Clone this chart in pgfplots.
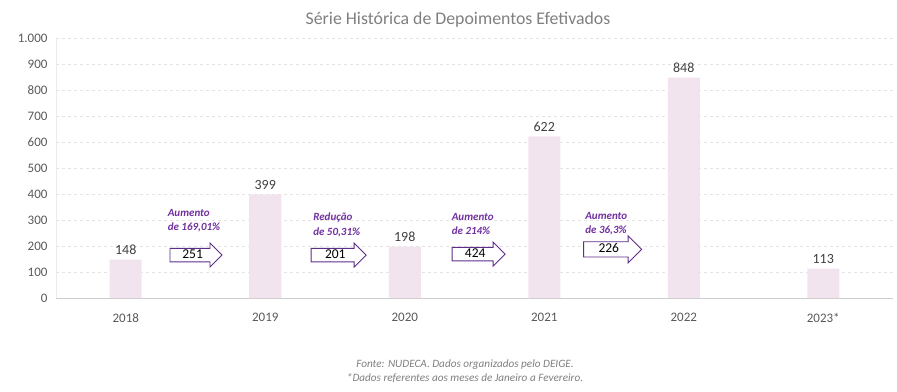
\documentclass[border=0pt]{standalone}
\usepackage{fontspec}
\setmainfont{Carlito}
\usepackage{pgfplots}
\pgfplotsset{compat=1.18}
\usetikzlibrary{shapes.arrows}
\definecolor{barc}{HTML}{F2E4EF}
\definecolor{purp}{HTML}{7030A0}
\definecolor{arrc}{HTML}{5E2D8A}
\definecolor{txtg}{HTML}{595959}
\definecolor{gridc}{HTML}{E3E3E3}
\definecolor{titg}{HTML}{7F7F7F}
\begin{document}
\begin{tikzpicture}[x=1pt,y=1pt,
  arr/.style={single arrow, draw=arrc, fill=white, line width=0.9pt, single arrow head extend=5pt,
    single arrow head indent=0pt, inner xsep=2pt, inner ysep=0.5pt, anchor=west,
    font=\fontsize{13.5}{14}\selectfont, text height=9pt, text depth=2pt, align=center},
  lab/.style={anchor=north west, inner sep=0pt, align=left, text=purp,
    font=\fontsize{11}{14.5}\selectfont\bfseries\itshape}]
\useasboundingbox (-56,-93) rectangle (841,298);
\begin{axis}[at={(0,0)}, anchor=south west, scale only axis,
  width=837pt, height=260pt,
  xmin=-0.5, xmax=5.5, ymin=0, ymax=1000,
  ytick={0,100,...,1000}, xtick={0,1,2,3,4,5},
  xticklabels={2018,2019,2020,2021,2022,\mbox{2023*}},
  ymajorgrids, grid style={dashed, color=gridc, line width=0.6pt},
  axis x line*=bottom, axis y line*=left,
  x axis line style={draw=black!20, line width=0.8pt},
  y axis line style={draw=black!8, line width=0.6pt},
  major tick length=0pt, tick style={draw=none},
  /pgf/number format/assume math mode=true,
  /pgf/number format/.cd, 1000 sep={.}, /pgfplots/.cd,
  ticklabel style={font=\fontsize{13}{15}\selectfont, text=txtg},
  yticklabel style={xshift=-5pt},
  xticklabel style={yshift=-12pt},
  clip=false,
]
\addplot[ybar, bar width=32pt, fill=barc, draw=none,
  nodes near coords, point meta=explicit symbolic,
  every node near coord/.append style={font=\fontsize{14}{16}\selectfont, text=black!75, anchor=south, yshift=1pt}]
  coordinates {(0,148) [148] (1,399) [399] (2,198) [198] (3,622) [622] (4,848) [848] (5,113) [113]};

\node[arr, minimum height=52pt, minimum width=24pt] at (axis cs:0.314,165) {251};
\node[arr, minimum height=55pt, minimum width=24pt] at (axis cs:1.326,165) {201};
\node[arr, minimum height=53pt, minimum width=24pt] at (axis cs:2.336,169) {424};
\node[arr, minimum height=58pt, minimum width=27pt] at (axis cs:3.279,187) {226};

\node[lab] at (axis cs:0.30,342) {Aumento\\de 169,01\%};
\node[lab] at (axis cs:1.343,327) {Redução\\de 50,31\%};
\node[lab] at (axis cs:2.336,327) {Aumento\\de 214\%};
\node[lab] at (axis cs:3.293,331) {Aumento\\de 36,3\%};
\end{axis}
\node[text=titg, font=\fontsize{17.8}{20}\selectfont] at (402,278) {Série Histórica de Depoimentos Efetivados};
\node[text=titg, font=\fontsize{11.2}{14}\selectfont\itshape, align=center] at (409,-73)
  {Fonte: NUDECA. Dados organizados pelo DEIGE.\\*Dados referentes aos meses de Janeiro a Fevereiro.};
\end{tikzpicture}
\end{document}
